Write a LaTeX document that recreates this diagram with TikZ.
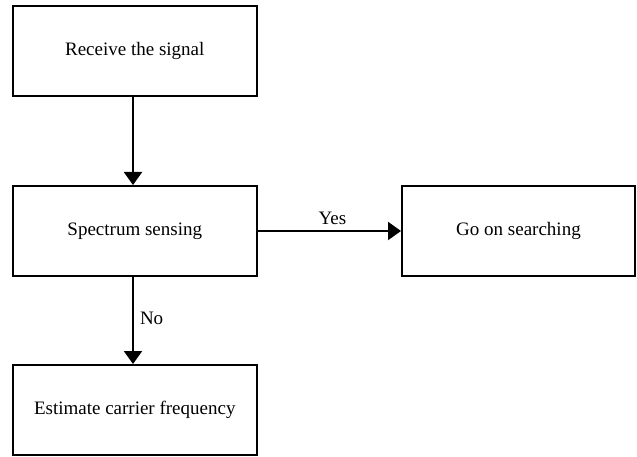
\documentclass[tikz,border=0pt]{standalone}
\usepackage{fontspec}
\setmainfont{Liberation Serif}
\usetikzlibrary{arrows.meta}
\tikzset{
  box/.style={draw=black, line width=2pt, rectangle, minimum width=244.5pt, minimum height=90pt, inner sep=0pt, font=\fontsize{19}{22}\selectfont},
  flow/.style={draw=black, line width=2pt, -{Triangle[width=18pt,length=13pt]}},
  lbl/.style={font=\fontsize{19}{22}\selectfont, inner sep=1pt}
}
\begin{document}
\begin{tikzpicture}[x=1pt,y=-1pt]
\useasboundingbox (0,0) rectangle (637,457);
\node[box] (recv) at (134.75,51) {Receive the signal};
\node[box] (sense) at (134.75,231) {Spectrum sensing};
\node[box, minimum width=233pt] (search) at (518.5,231) {Go on searching};
\node[box] (est) at (134.75,410) {Estimate carrier frequency};
\draw[flow] ([xshift=-1.75pt]recv.south) -- ([xshift=-1.75pt]sense.north);
\draw[flow] (sense.east) -- node[lbl, above=4pt, xshift=3pt] (yes) {Yes} (search.west);
\draw[flow] ([xshift=-1.75pt]sense.south) -- node[lbl, right=5pt, yshift=2pt] (no) {No} ([xshift=-1.75pt]est.north);
\end{tikzpicture}
\end{document}
